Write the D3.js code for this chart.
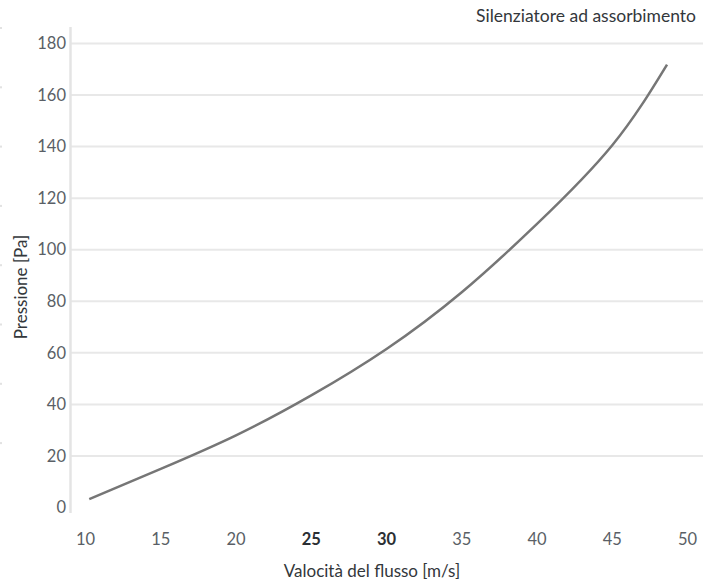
<!DOCTYPE html>
<html>
<head>
<meta charset="utf-8">
<script src="https://cdn.jsdelivr.net/npm/d3@7/dist/d3.min.js"></script>
<style>
  body { margin: 0; background: #fff; }
  svg { display: block; font-family: Lato, "Open Sans", sans-serif; }
</style>
</head>
<body>
<svg id="chart" width="714" height="582"></svg>
<script>
// Data
const title = "Silenziatore ad assorbimento";
const xTitle = "Valocità del flusso [m/s]";
const yTitle = "Pressione [Pa]";
const xTicks = [10, 15, 20, 25, 30, 35, 40, 45, 50];
const xTicksBold = [25, 30];
const yTicks = [0, 20, 40, 60, 80, 100, 120, 140, 160, 180];
const velocity = [10.25, 15, 20, 25, 30, 35, 40, 45, 48.64];
const pressure = [3.3, 15, 28, 43.5, 61.5, 83.5, 110, 140.5, 171.8];

const svg = d3.select("#chart");
const x = d3.scaleLinear().domain([10, 50]).range([85.5, 687.5]);
const y = d3.scaleLinear().domain([0, 180]).range([507.6, 43.4]);

// faint marks at left edge (cropped neighbour artefact)
const edgeMarks = d3.range(8);
svg.append("g").selectAll("rect").data(edgeMarks).join("rect")
  .attr("x", 0).attr("y", d => 27 + d * 59.3).attr("width", 2).attr("height", 2)
  .attr("fill", "#e2e2e2");

// gridlines (excluding 0)
svg.append("g").selectAll("line").data(yTicks.filter(d => d > 0)).join("line")
  .attr("x1", 71).attr("x2", 703)
  .attr("y1", d => y(d)).attr("y2", d => y(d))
  .attr("stroke", "#e8e8e8").attr("stroke-width", 2);

// y axis line
svg.append("line").attr("x1", 70.5).attr("x2", 70.5).attr("y1", 27).attr("y2", 513)
  .attr("stroke", "#e4e4e4").attr("stroke-width", 2.5);

// y tick labels
svg.append("g").selectAll("text").data(yTicks).join("text")
  .attr("x", 66).attr("y", d => y(d)).attr("dy", "0.35em")
  .attr("text-anchor", "end").attr("font-size", 16.5).attr("fill", "#5a5f66")
  .text(d => d);

// x tick labels
svg.append("g").selectAll("text").data(xTicks).join("text")
  .attr("x", d => x(d)).attr("y", 545)
  .attr("text-anchor", "middle").attr("font-size", 16.5)
  .attr("fill", d => xTicksBold.includes(d) ? "#2b2f33" : "#5a5f66")
  .attr("font-weight", d => xTicksBold.includes(d) ? 700 : 400)
  .text(d => d);

// curve
const line = d3.line().x(d => x(d[0])).y(d => y(d[1])).curve(d3.curveNatural);
svg.append("path").datum(velocity.map((v, i) => [v, pressure[i]]))
  .attr("d", line).attr("fill", "none").attr("stroke", "#767676").attr("stroke-width", 2.5);

// titles
svg.append("text").attr("x", 696).attr("y", 22).attr("text-anchor", "end")
  .attr("font-size", 17.5).attr("fill", "#33373b").text(title);
svg.append("text").attr("x", 372).attr("y", 577).attr("text-anchor", "middle")
  .attr("font-size", 17).attr("fill", "#33373b").text(xTitle);
svg.append("text").attr("transform", "translate(27,287) rotate(-90)")
  .attr("text-anchor", "middle").attr("font-size", 17).attr("fill", "#33373b").text(yTitle);
</script>
</body>
</html>
